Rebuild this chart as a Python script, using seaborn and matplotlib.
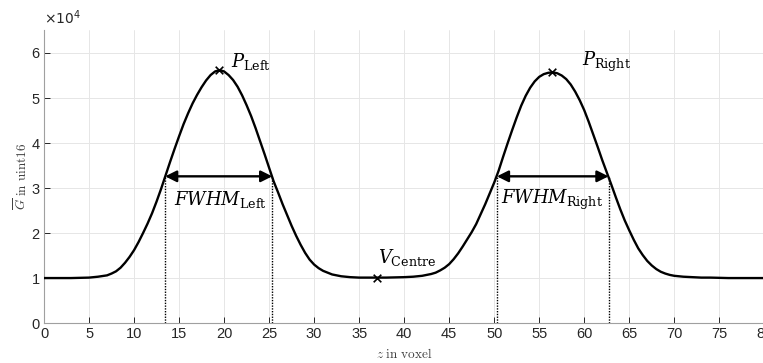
import matplotlib
matplotlib.use("Agg")
import matplotlib.pyplot as plt
import seaborn as sns
import pandas as pd

# ---- data ----
z_voxel = [
    0, 1, 2, 3, 4, 5, 6, 7, 7.5, 8, 8.5, 9, 9.5,
    10, 10.5, 11, 11.5, 12, 12.5, 13, 13.5, 14, 14.5, 15, 15.5,
    16, 16.5, 17, 17.5, 18, 18.5, 19, 19.5, 20, 20.5, 21, 21.5,
    22, 22.5, 23, 23.5, 24, 24.5, 25, 25.5, 26, 26.5, 27, 27.5,
    28, 28.5, 29, 29.5, 30, 30.5, 31, 31.5, 32, 32.5, 33, 33.5,
    34, 34.5, 35, 36, 37, 38, 39, 40, 41, 42, 43, 43.5,
    44, 44.5, 45, 45.5, 46, 46.5, 47, 47.5, 48, 48.5, 49, 49.5,
    50, 50.5, 51, 51.5, 52, 52.5, 53, 53.5, 54, 54.5, 55, 55.5,
    56, 56.5, 57, 57.5, 58, 58.5, 59, 59.5, 60, 60.5, 61, 61.5,
    62, 62.5, 63, 63.5, 64, 64.5, 65, 65.5, 66, 66.5, 67, 67.5,
    68, 68.5, 69, 69.5, 70, 71, 72, 73, 74, 75, 76, 77, 78, 79, 80,
]
g_mean_e4 = [
    1.00, 1.00, 1.00, 1.00, 1.005, 1.01, 1.03, 1.06, 1.10, 1.15, 1.23, 1.34, 1.47,
    1.62, 1.80, 2.00, 2.21, 2.44, 2.70, 2.98, 3.28, 3.58, 3.87, 4.15, 4.42,
    4.66, 4.88, 5.07, 5.24, 5.39, 5.51, 5.59, 5.62, 5.59, 5.51, 5.40, 5.25,
    5.06, 4.84, 4.60, 4.33, 4.04, 3.75, 3.45, 3.15, 2.90, 2.64, 2.40, 2.16,
    1.94, 1.74, 1.56, 1.41, 1.30, 1.22, 1.16, 1.12, 1.08, 1.06, 1.04, 1.03,
    1.02, 1.015, 1.01, 1.01, 1.01, 1.01, 1.015, 1.02, 1.03, 1.05, 1.09, 1.12,
    1.17, 1.23, 1.31, 1.42, 1.55, 1.70, 1.86, 2.02, 2.20, 2.42, 2.64, 2.88,
    3.12, 3.39, 3.70, 4.00, 4.29, 4.57, 4.83, 5.05, 5.23, 5.37, 5.47, 5.53,
    5.56, 5.57, 5.55, 5.50, 5.42, 5.30, 5.14, 4.95, 4.73, 4.47, 4.19, 3.91,
    3.62, 3.35, 3.08, 2.80, 2.53, 2.28, 2.06, 1.85, 1.66, 1.51, 1.38, 1.28,
    1.20, 1.14, 1.10, 1.07, 1.05, 1.03, 1.02, 1.01, 1.01, 1.005, 1.00, 1.00, 1.00, 1.00, 1.00,
]
g_mean = [v * 1e4 for v in g_mean_e4]

marker_names = ["P_Left", "V_Centre", "P_Right"]
marker_z = [19.4, 37.0, 56.4]
marker_g = [5.62e4, 1.01e4, 5.57e4]

fwhm_names = ["Left", "Right"]
fwhm_start = [13.45, 50.3]
fwhm_end = [25.35, 62.7]
fwhm_level = [3.26e4, 3.26e4]

x_ticks = list(range(0, 81, 5))
y_ticks = [0, 1e4, 2e4, 3e4, 4e4, 5e4, 6e4]
y_tick_labels = ["0", "1", "2", "3", "4", "5", "6"]

df = pd.DataFrame({"z": z_voxel, "g": g_mean})
dm = pd.DataFrame({"z": marker_z, "g": marker_g, "name": marker_names})

sns.set_theme(style="whitegrid")
plt.rcParams["font.family"] = ["Liberation Sans", "DejaVu Sans"]

fig = plt.figure(figsize=(7.63, 3.63), dpi=100)
ax = fig.add_axes([0.0577, 0.110, 0.944, 0.806])

sns.lineplot(data=df, x="z", y="g", color="black", lw=1.7, ax=ax, zorder=3,
             sort=True, estimator=None)
sns.scatterplot(data=dm, x="z", y="g", marker="x", color="black", s=30,
                linewidth=1.2, ax=ax, zorder=4, legend=False)

for xs, xe, lv in zip(fwhm_start, fwhm_end, fwhm_level):
    ax.annotate("", xy=(xs, lv), xytext=(xe, lv),
                arrowprops=dict(arrowstyle="<|-|>", color="black", lw=1.7,
                                mutation_scale=17, shrinkA=0, shrinkB=0),
                zorder=5)
    ax.vlines([xs, xe], 0, lv, colors="black", linestyles=(0, (1, 1)), lw=1.0, zorder=2)

tfs = 13
mf = "dejavuserif"
ax.text(20.8, 5.82e4, r"$P_{\mathrm{Left}}$", fontsize=tfs, math_fontfamily=mf,
        ha="left", va="center", color="black")
ax.text(59.7, 5.80e4, r"$P_{\mathrm{Right}}$", fontsize=tfs, math_fontfamily=mf,
        ha="left", va="center", color="black")
ax.text(19.6, 2.74e4, r"$FWHM_{\mathrm{Left}}$", fontsize=tfs, math_fontfamily=mf,
        ha="center", va="center", color="black")
ax.text(56.4, 2.74e4, r"$FWHM_{\mathrm{Right}}$", fontsize=tfs, math_fontfamily=mf,
        ha="center", va="center", color="black")
ax.text(37.1, 1.45e4, r"$V_{\mathrm{Centre}}$", fontsize=tfs, math_fontfamily=mf,
        ha="left", va="center", color="black")

ax.set_xlim(0, 80)
ax.set_ylim(0, 6.5e4)
ax.set_xticks(x_ticks)
ax.set_xticklabels([str(t) for t in x_ticks])
ax.set_yticks(y_ticks)
ax.set_yticklabels(y_tick_labels)

tick_col = "#262626"
ax.tick_params(axis="both", direction="in", length=4, width=0.7, colors=tick_col,
               labelsize=10.5, pad=3, bottom=True, left=True, top=False, right=False,
               labelcolor=tick_col)
ax.grid(True, color="#e6e6e6", lw=0.7)
for s in ["top", "right"]:
    ax.spines[s].set_visible(False)
for s in ["left", "bottom"]:
    ax.spines[s].set_color("#a0a0a0")
    ax.spines[s].set_linewidth(0.8)
ax.set_facecolor("white")

ax.set_xlabel(r"$z\ \mathrm{in\ voxel}$", fontsize=9.5, math_fontfamily="cm",
              color="#404040", labelpad=4)
ax.set_ylabel(r"$\overline{G}\ \mathrm{in\ uint16}$", fontsize=9.5, math_fontfamily="cm",
              color="#404040", labelpad=1)
ax.text(0.0, 1.012, r"$\times10^{4}$", transform=ax.transAxes, fontsize=10,
        math_fontfamily="dejavusans", color=tick_col, ha="left", va="bottom")

fig.savefig("out.png", dpi=100, facecolor="white")
